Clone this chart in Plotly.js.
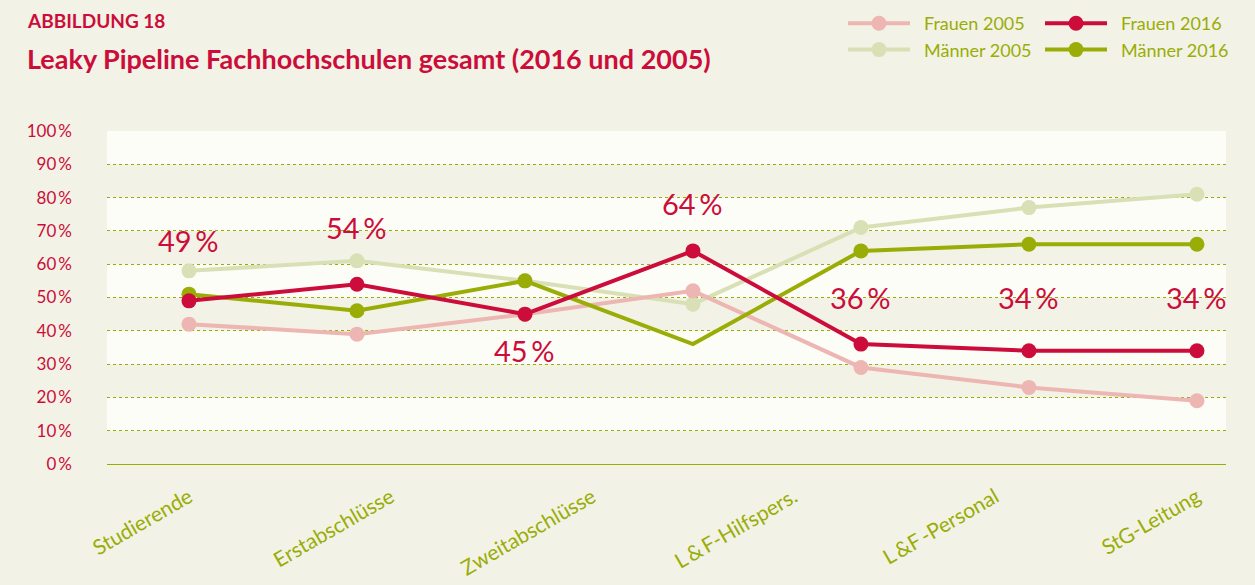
<!DOCTYPE html>
<html><head><meta charset="utf-8">
<script src="https://cdn.plot.ly/plotly-3.0.1.min.js"></script>
<style>html,body{margin:0;padding:0;background:#F2F3E6}</style>
</head><body><div id="chart" style="width:1255px;height:585px"></div>
<script>
// data (values in %)
const points = [0, 1, 2, 3, 4, 5, 6];
const tickLabels = ["Studierende", "Erstabschlüsse", "Zweitabschlüsse", "L\u2009&\u2009F-Hilfspers.", "L\u2009&F\u2009-Personal", "StG-Leitung"];
const frauen2005 = [42, 39, 45, 52, 29, 23, 19];
const maenner2005 = [58, 61, 55, 48, 71, 77, 81];
const frauen2016 = [49, 54, 45, 64, 36, 34, 34];
const maenner2016 = [51, 46, 55, 36, 64, 66, 66];
const yTicks = [0, 10, 20, 30, 40, 50, 60, 70, 80, 90, 100];

// styles
const W = 1255, H = 585, ML = 107, MR = 29, MT = 131, MB = 121;
const BG = '#F2F3E6', WHITE = '#FDFDF8';
const RED = '#CC0C3A', GREEN = '#9AAD06', PINK = '#EDB6B2', LGREEN = '#D9E0B6';
const FONT = 'Lato, "Open Sans", sans-serif';
const labelShift = [60, 57, -36, 47, 47, 53, 53];

function tr(name, y, color, legend, rank, colors) {
  return {
    x: points, y: y, name: '\u2002' + name, type: 'scatter', mode: 'lines+markers',
    line: {color: color, width: 4}, marker: {color: colors || color, size: 15},
    legend: legend, legendrank: rank, cliponaxis: false, hoverinfo: 'y'
  };
}
const data = [
  tr('Männer 2005', maenner2005, LGREEN, 'legend', 2),
  tr('Frauen 2005', frauen2005, PINK, 'legend', 1),
  tr('Männer 2016', maenner2016, GREEN, 'legend2', 2, [GREEN, GREEN, GREEN, 'rgba(0,0,0,0)', GREEN, GREEN, GREEN]),
  tr('Frauen 2016', frauen2016, RED, 'legend2', 1)
];

const shapes = [];
for (let i = 1; i < yTicks.length; i += 2) {
  shapes.push({type: 'rect', xref: 'paper', yref: 'y', x0: 0, x1: 1,
    y0: yTicks[i], y1: yTicks[i + 1], fillcolor: WHITE, line: {width: 0}, layer: 'below'});
}

const annotations = frauen2016.map((v, i) => ({
  x: points[i], y: v, xref: 'x', yref: 'y', text: v + '\u2009%', showarrow: false,
  yshift: labelShift[i], font: {family: FONT, size: 29, color: RED}
}));
const pw = W - ML - MR, ph = H - MT - MB;
annotations.push({
  xref: 'paper', yref: 'paper', x: (25 - ML) / pw, y: (H - MB - 20) / ph, xanchor: 'left', yanchor: 'middle',
  text: '<b>ABBILDUNG 18</b>', showarrow: false, font: {family: FONT, size: 19, color: RED}
});

const n = points.length, m = tickLabels.length;
const tickPos = tickLabels.map((_, i) => i * (n - 1) / (m - 1));

const legendBase = {
  orientation: 'v', xref: 'container', yref: 'container', yanchor: 'top', xanchor: 'left',
  bgcolor: 'rgba(0,0,0,0)', font: {family: FONT, size: 18, color: GREEN}, itemwidth: 62,
  traceorder: 'normal'
};

const layout = {
  width: W, height: H,
  paper_bgcolor: BG, plot_bgcolor: BG,
  margin: {l: ML, r: MR, t: MT, b: MB, autoexpand: false},
  title: {text: '<b>Leaky Pipeline Fachhochschulen gesamt (2016 und 2005)</b>', xref: 'container', yref: 'container',
    x: 27 / W, xanchor: 'left', y: 1 - 60 / H, yanchor: 'middle', font: {family: FONT, size: 27, color: RED}},
  xaxis: {range: [-0.488, 6.173], tickmode: 'array', tickvals: tickPos, ticktext: tickLabels, tickangle: -30,
    showgrid: false, zeroline: false, showline: false, ticks: '', ticklabelstandoff: 16,
    tickfont: {family: FONT, size: 21, color: GREEN}, fixedrange: true},
  yaxis: {range: [0, 100], tickmode: 'array', tickvals: yTicks, ticktext: yTicks.map(v => v + '\u2009%'),
    showgrid: true, gridcolor: GREEN, griddash: 'dot', gridwidth: 1,
    zeroline: true, zerolinecolor: GREEN, zerolinewidth: 1, showline: false, ticks: '', ticklabelstandoff: 34,
    tickfont: {family: FONT, size: 17, color: RED}, fixedrange: true},
  shapes: shapes, annotations: annotations,
  legend: Object.assign({}, legendBase, {x: 843 / W, y: 1 - 5 / H}),
  legend2: Object.assign({}, legendBase, {x: 1040 / W, y: 1 - 5 / H}),
  showlegend: true
};

Plotly.newPlot('chart', data, layout, {displayModeBar: false, staticPlot: true});
</script></body></html>
